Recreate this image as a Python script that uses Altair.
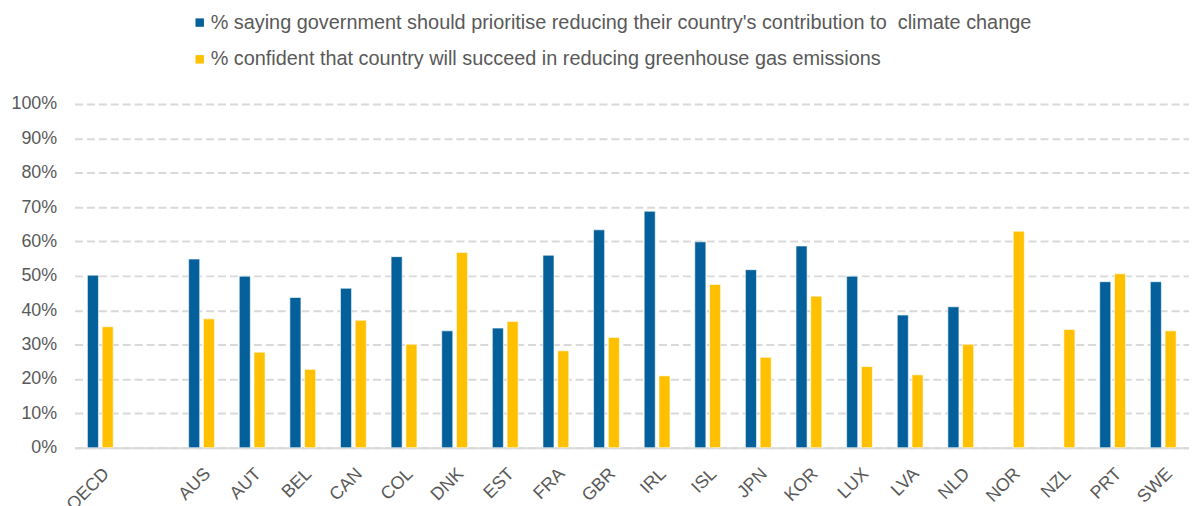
import altair as alt
import pandas as pd

categories = ["OECD", " ", "AUS", "AUT", "BEL", "CAN", "COL", "DNK", "EST", "FRA",
              "GBR", "IRL", "ISL", "JPN", "KOR", "LUX", "LVA", "NLD", "NOR", "NZL",
              "PRT", "SWE"]
series_names = [
    "% saying government should prioritise reducing their country's contribution to \u00a0climate change",
    "% confident that country will succeed in reducing greenhouse gas emissions",
]
prioritise = [50.2, None, 54.9, 49.9, 43.7, 46.4, 55.6, 34.0, 34.8, 56.0,
              63.4, 68.8, 59.9, 51.8, 58.7, 49.9, 38.6, 41.0, None, None,
              48.3, 48.3]
confident = [35.2, None, 37.5, 27.8, 22.8, 37.1, 30.1, 56.8, 36.7, 28.2,
             32.1, 20.9, 47.5, 26.3, 44.1, 23.6, 21.2, 30.1, 63.0, 34.4,
             50.6, 34.0]
colors = ["#04609A", "#FFC000"]
y_ticks = [0, 10, 20, 30, 40, 50, 60, 70, 80, 90, 100]

rows = []
for c, a, b in zip(categories, prioritise, confident):
    if a is not None:
        rows.append({"country": c, "series": series_names[0], "value": a})
    if b is not None:
        rows.append({"country": c, "series": series_names[1], "value": b})
df = pd.DataFrame(rows)

FONT = "Liberation Sans"
GREY = "#595959"

chart = alt.Chart(df).mark_bar(stroke="white", strokeWidth=0.6).encode(
    x=alt.X("country:N", sort=categories,
            scale=alt.Scale(domain=categories, paddingInner=0.49, paddingOuter=0.254),
            axis=alt.Axis(title=None, labelAngle=-45, labelFontSize=18, labelColor=GREY,
                          labelFont=FONT, ticks=False, domainColor="#D9D9D9", domainWidth=2,
                          labelPadding=17, labelOffset=0)),
    xOffset=alt.XOffset("series:N", sort=series_names,
                        scale=alt.Scale(domain=series_names, paddingInner=0.25)),
    y=alt.Y("value:Q", scale=alt.Scale(domain=[0, 100]),
            axis=alt.Axis(title=None, values=y_ticks, labelExpr="datum.value + '%'",
                          grid=True, gridDash=[8, 4], gridColor="#D9D9D9", gridWidth=2,
                          domain=False, ticks=False, labelPadding=18, labelFontSize=18,
                          labelColor=GREY, labelFont=FONT)),
    color=alt.Color("series:N", sort=series_names,
                    scale=alt.Scale(domain=series_names, range=colors),
                    legend=alt.Legend(title=None, orient="none", legendX=116, legendY=-92,
                                      direction="vertical", symbolType="square",
                                      symbolSize=72, symbolStrokeWidth=0,
                                      labelFontSize=20, labelColor=GREY, labelFont=FONT,
                                      labelLimit=0, rowPadding=17, padding=0,
                                      labelOffset=1)),
).properties(
    width=1122, height=346,
    padding={"left": 67, "top": 95, "right": 0, "bottom": 57},
    autosize="none",
).configure_view(stroke=None)

chart.save("out.html", embed_options={"renderer": "svg", "actions": False})
